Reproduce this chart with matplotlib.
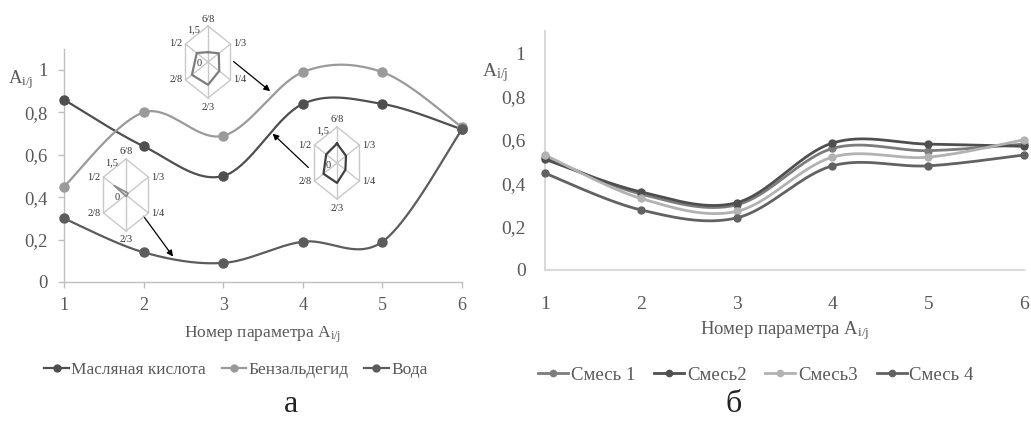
import numpy as np
import matplotlib
matplotlib.use("Agg")
import matplotlib.pyplot as plt
from matplotlib.lines import Line2D

plt.rcParams['font.family'] = ['Liberation Serif', 'DejaVu Serif']
plt.rcParams['mathtext.fontset'] = 'custom'
plt.rcParams['mathtext.rm'] = 'Liberation Serif'
plt.rcParams['mathtext.it'] = 'Liberation Serif'
plt.rcParams['mathtext.default'] = 'rm'

# ---------------- data ----------------
params = [1, 2, 3, 4, 5, 6]
ytick_vals = [0, 0.2, 0.4, 0.6, 0.8, 1.0]
ytick_labels = ["0", "0,2", "0,4", "0,6", "0,8", "1"]

left_names = ["Масляная кислота", "Бензальдегид", "Вода"]
butyric = [0.86, 0.64, 0.50, 0.84, 0.84, 0.72]
benzaldehyde = [0.45, 0.80, 0.69, 0.99, 0.99, 0.73]
water = [0.30, 0.14, 0.09, 0.19, 0.19, 0.72]
left_colors = ["#4f4f4f", "#9a9a9a", "#5c5c5c"]

right_names = ["Смесь 1", "Смесь2", "Смесь3", "Смесь 4"]
mix1 = [0.52, 0.35, 0.30, 0.56, 0.55, 0.58]
mix2 = [0.51, 0.36, 0.31, 0.585, 0.58, 0.57]
mix3 = [0.53, 0.33, 0.27, 0.52, 0.52, 0.60]
mix4 = [0.446, 0.277, 0.24, 0.48, 0.48, 0.53]
right_colors = ["#7c7c7c", "#4f4f4f", "#b2b2b2", "#626262"]

radar_axes = ["6/8", "1/3", "1/4", "2/3", "2/8", "1/2"]
radar_max = 1.5
radar_benz = [0.41, 0.72, 0.75, 0.95, 1.07, 0.75]
radar_butyric = [0.81, 0.60, 0.56, 0.83, 0.90, 0.72]
radar_water = [0.12, 0.14, 0.06, 0.06, 0.05, 0.78]

# ---------------- helpers ----------------
W, H = 1031, 421
fig = plt.figure(figsize=(W / 100, H / 100), dpi=100)


def px_axes(x0, y0, x1, y1):
    return fig.add_axes([x0 / W, 1 - y1 / H, (x1 - x0) / W, (y1 - y0) / H])


def smooth(xs, ys, n=40):
    xs = np.asarray(xs, float)
    ys = np.asarray(ys, float)
    px = np.concatenate([[xs[0]], xs, [xs[-1]]])
    py = np.concatenate([[ys[0]], ys, [ys[-1]]])
    outx, outy = [], []
    t = np.linspace(0, 1, n)
    for i in range(1, len(px) - 2):
        p0 = np.array([px[i], py[i]])
        p3 = np.array([px[i + 1], py[i + 1]])
        p1 = p0 + (p3 - np.array([px[i - 1], py[i - 1]])) / 6
        p2 = p3 - (np.array([px[i + 2], py[i + 2]]) - p0) / 6
        b = ((1 - t) ** 3)[:, None] * p0 + (3 * (1 - t) ** 2 * t)[:, None] * p1 \
            + (3 * (1 - t) * t ** 2)[:, None] * p2 + (t ** 3)[:, None] * p3
        outx.append(b[:, 0])
        outy.append(b[:, 1])
    return np.concatenate(outx), np.concatenate(outy)


tick_color = "#595959"
sub = r"$\mathregular{_{i/j}}$"

# ---------------- left chart ----------------
ax1 = px_axes(64, 48.8, 462, 282)
for ys, c in zip([butyric, benzaldehyde, water], left_colors):
    sx, sy = smooth(params, ys)
    ax1.plot(sx, sy, color=c, lw=1.6, zorder=3)
    ax1.plot(params, ys, 'o', color=c, ms=6.5, zorder=4, clip_on=False)
ax1.set_xlim(1, 6)
ax1.set_ylim(0, 1.1)
ax1.set_xticks(params)
ax1.set_xticklabels([str(p) for p in params])
ax1.set_yticks(ytick_vals)
ax1.set_yticklabels(ytick_labels)
for s in ["top", "right"]:
    ax1.spines[s].set_visible(False)
for s in ["left", "bottom"]:
    ax1.spines[s].set_color("#bfbfbf")
    ax1.spines[s].set_linewidth(1.0)
ax1.tick_params(axis='both', colors="#bfbfbf", labelcolor=tick_color, length=4, width=1.0)
ax1.tick_params(axis='y', labelsize=13.5, pad=8)
ax1.tick_params(axis='x', labelsize=13, pad=7)
ax1.patch.set_alpha(0)

fig.text(21 / W, 1 - 80 / H, "A" + sub, fontsize=13.5, color=tick_color, ha='center', va='center')
fig.text(263 / W, 1 - 335 / H, "Номер параметра A" + sub, fontsize=12.5, color=tick_color,
         ha='center', va='center')

h_left = [Line2D([], [], color=c, marker='o', ms=5, lw=1.6) for c in left_colors]
fig.legend(h_left, left_names, loc='center', bbox_to_anchor=(236 / W, 1 - 370 / H), ncol=3,
           frameon=False, fontsize=12.5, handlelength=1.4, handletextpad=0.15, columnspacing=0.9,
           labelcolor=tick_color)
fig.text(291 / W, 1 - 405 / H, "а", fontsize=23, color="#222222", ha='center', va='center')

# ---------------- radar insets ----------------
angles = np.deg2rad([90, 30, -30, -90, -150, 150])
R = 36.0
SX = 22.5 / (R * np.cos(np.deg2rad(30)))
label_off = [(0, 7), (3, 0), (3, 0), (0, -9), (-3, 0), (-3, 0)]


def radar(cx, cy, vals, color, lw):
    ax = px_axes(cx - 60, cy - 60, cx + 60, cy + 60)
    ax.set_xlim(-60, 60)
    ax.set_ylim(-60, 60)
    ax.axis('off')
    vx = R * np.cos(angles) * SX
    vy = R * np.sin(angles)
    ax.plot(np.append(vx, vx[0]), np.append(vy, vy[0]), color="#c9c9c9", lw=1.0)
    for x, y in zip(vx, vy):
        ax.plot([0, x], [0, y], color="#c9c9c9", lw=1.0)
    r = np.asarray(vals) / radar_max
    dx = r * vx
    dy = r * vy
    ax.plot(np.append(dx, dx[0]), np.append(dy, dy[0]), color=color, lw=lw)
    for (ox, oy), lab, x, y in zip(label_off, radar_axes, vx, vy):
        ha = 'center' if ox == 0 else ('left' if ox > 0 else 'right')
        ax.text(x + ox, y + oy, lab, fontsize=7.5, ha=ha, va='center', color="#333333")
    ax.text(-8, R - 4, "1,5", fontsize=7.5, ha='right', va='center', color="#333333")
    ax.text(-9, -2, "0", fontsize=7.5, ha='center', va='center', color="#333333")
    return ax


radar(208, 62, radar_benz, "#7d7d7d", 1.6)
radar(337, 163, radar_butyric, "#404040", 1.6)
radar(126, 195, radar_water, "#8a8a8a", 1.2)

# arrows (left-axes data coords)
arrow_kw = dict(arrowstyle='-|>', color='black', lw=0.9, mutation_scale=9, shrinkA=0, shrinkB=0)
ax1.annotate("", xy=(3.59, 0.90), xytext=(3.13, 1.04), arrowprops=arrow_kw, annotation_clip=False)
ax1.annotate("", xy=(3.62, 0.70), xytext=(4.07, 0.54), arrowprops=arrow_kw, annotation_clip=False)
ax1.annotate("", xy=(2.37, 0.12), xytext=(2.00, 0.31), arrowprops=arrow_kw, annotation_clip=False)

# ---------------- right chart ----------------
ax2 = px_axes(545, 31.3, 1024, 270)
for ys, c in zip([mix1, mix2, mix3, mix4], right_colors):
    sx, sy = smooth(params, ys)
    ax2.plot(sx, sy, color=c, lw=2.0, zorder=3)
    ax2.plot(params, ys, 'o', color=c, ms=5, zorder=4, clip_on=False)
ax2.set_xlim(1, 6)
ax2.set_ylim(0, 1.1)
ax2.set_xticks(params)
ax2.set_xticklabels([str(p) for p in params])
ax2.set_yticks(ytick_vals)
ax2.set_yticklabels(ytick_labels)
for s in ["top", "right"]:
    ax2.spines[s].set_visible(False)
for s in ["left", "bottom"]:
    ax2.spines[s].set_color("#d9d9d9")
    ax2.spines[s].set_linewidth(1.5)
ax2.tick_params(axis='both', length=0, labelcolor=tick_color)
ax2.tick_params(axis='y', labelsize=14, pad=14)
ax2.tick_params(axis='x', labelsize=14, pad=19)
ax2.patch.set_alpha(0)

fig.text(495 / W, 1 - 73 / H, "A" + sub, fontsize=14, color=tick_color, ha='center', va='center')
fig.text(785 / W, 1 - 331 / H, "Номер параметра A" + sub, fontsize=13.5, color=tick_color,
         ha='center', va='center')

h_right = [Line2D([], [], color=c, marker='o', ms=4.5, lw=2.0) for c in right_colors]
fig.legend(h_right, right_names, loc='center', bbox_to_anchor=(756 / W, 1 - 375 / H), ncol=4,
           frameon=False, fontsize=13.5, handlelength=1.6, handletextpad=0.15, columnspacing=1.0,
           labelcolor=tick_color)
fig.text(734 / W, 1 - 405 / H, "б", fontsize=23, color="#222222", ha='center', va='center')

fig.savefig("out.png", dpi=100)
